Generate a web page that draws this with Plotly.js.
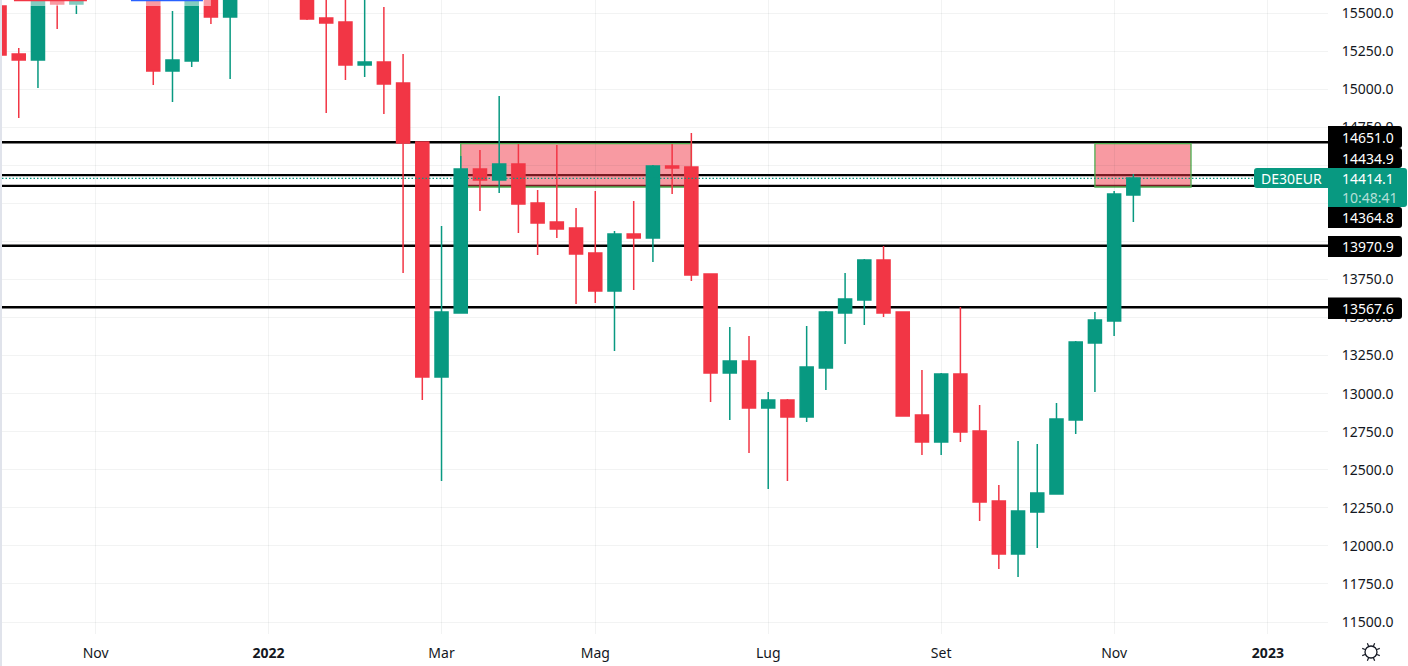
<!DOCTYPE html>
<html><head><meta charset="utf-8">
<script src="https://cdn.plot.ly/plotly-3.0.1.min.js"></script>
<style>html,body{margin:0;padding:0;background:#fff;overflow:hidden}</style>
</head><body><div id="chart" style="width:1408px;height:666px"></div>
<script>
const dates = ["2021-09-27","2021-10-04","2021-10-11","2021-10-18","2021-10-25","2021-11-22","2021-11-29","2021-12-06","2021-12-13","2021-12-20","2022-01-17","2022-01-24","2022-01-31","2022-02-07","2022-02-14","2022-02-21","2022-02-28","2022-03-07","2022-03-14","2022-03-21","2022-03-28","2022-04-04","2022-04-11","2022-04-18","2022-04-25","2022-05-02","2022-05-09","2022-05-16","2022-05-23","2022-05-30","2022-06-06","2022-06-13","2022-06-20","2022-06-27","2022-07-04","2022-07-11","2022-07-18","2022-07-25","2022-08-01","2022-08-08","2022-08-15","2022-08-22","2022-08-29","2022-09-05","2022-09-12","2022-09-19","2022-09-26","2022-10-03","2022-10-10","2022-10-17","2022-10-24","2022-10-31","2022-11-07","2022-11-14"];
const opens = [15546,15231,15191,15600,15559,15700,15119,15185,15700,15474,15700,15467,15441,15158,15178,15040,14653,13109,13530,14475,14403,14508,14252,14127,14088,13924,13674,14049,14022,14495,14489,13786,13136,13214,12906,12958,12847,13168,13530,13615,13878,13536,12860,12682,13129,12755,12295,11947,12223,12341,12827,13333,13477,14305];
const highs = [15546,15270,15660,15600,15600,15750,15513,15700,15700,15700,15700,15750,15750,15750,15539,15231,14653,14101,14561,14600,14955,14640,14337,14633,14219,14331,14068,14265,14502,14640,14712,13786,13438,13379,13011,12965,13444,13543,13792,13885,13970,13536,13155,13136,13569,12925,12400,12689,12669,12939,13346,13536,14331,14443];
const lows = [15224,14810,15007,15395,15493,15027,14915,15145,15428,15067,15454,14843,15060,15080,14837,13792,12958,12426,13530,14200,14318,14055,13911,14022,13589,13595,13280,13681,13865,14311,13740,12945,12827,12610,12374,12426,12814,13024,13326,13451,13503,12853,12597,12597,12682,12163,11848,11796,11986,12341,12735,13011,13379,14127];
const closes = [15224,15191,15650,15559,15600,15119,15191,15700,15474,15700,15461,15434,15158,15178,15034,14646,13109,13536,14475,14403,14508,14246,14121,14081,13917,13674,14049,14022,14495,14482,13779,13136,13214,12906,12958,12847,13175,13536,13622,13878,13530,12853,12682,13129,12748,12288,11947,12229,12347,12833,13339,13484,14311,14416];

const tickDates = ["2021-11-01","2022-01-03","2022-03-07","2022-05-02","2022-07-04","2022-09-05","2022-11-07","2023-01-02"];
const tickLabels = ["Nov","<b>2022</b>","Mar","Mag","Lug","Set","Nov","<b>2023</b>"];
const priceTicks = [11500,11750,12000,12250,12500,12750,13000,13250,13500,13750,14000,14250,14500,14750,15000,15250,15500];
const hiddenPriceLabels = [14000,14250,14500];
const levels = [14651.0,14434.9,14364.8,13970.9,13567.6];
const levelTagTop = [126,148,207,236,297.5];
const levelTagBottom = [148,168,228,257,319];
const lastPrice = 14414.1;
const zones = [["2022-03-14","2022-06-06"],["2022-10-31","2022-12-05"]];
const zoneTop = 14642, zoneBottom = 14357;

const UP = "#089981", DOWN = "#f23645", FONT = '"Noto Sans","Open Sans",sans-serif', INK = "#131722";
const PH = 634, PW = 1326, PL = 2;
const px = p => (p - PL) / PW;
const py = p => 1 - p / PH;

function tag(x0, x1, y0, y1, color, roundLeft) {
  const r = 3, rl = roundLeft ? r : 0, P = (a, b) => px(a) + " " + py(b);
  return {type:"path",xref:"paper",yref:"paper",layer:"above",fillcolor:color,line:{width:0},
    path:"M"+P(x0+rl,y0)+" L"+P(x1-r,y0)+" Q"+P(x1,y0)+" "+P(x1,y0+r)+" L"+P(x1,y1-r)+" Q"+P(x1,y1)+" "+P(x1-r,y1)+
         " L"+P(x0+rl,y1)+(rl?" Q"+P(x0,y1)+" "+P(x0,y1-r)+" L"+P(x0,y0+r)+" Q"+P(x0,y0)+" "+P(x0+r,y0):"")+" Z"};
}

const shapes = [];
shapes.push({type:"rect",xref:"paper",yref:"paper",x0:-2/PW,x1:0,y0:-32/PH,y1:1,fillcolor:"#e0e3eb",line:{width:0},layer:"below"});
levels.forEach(v => shapes.push({type:"line",xref:"paper",yref:"y",x0:0,x1:1,y0:v,y1:v,line:{color:"#000",width:2.4},layer:"below"}));
zones.forEach(z => shapes.push({type:"rect",xref:"x",yref:"y",x0:z[0],x1:z[1],y0:zoneBottom,y1:zoneTop,fillcolor:"rgba(242,54,69,0.5)",line:{color:"#4caf50",width:1.3},layer:"below"}));
shapes.push({type:"line",xref:"paper",yref:"y",x0:0,x1:1,y0:lastPrice,y1:lastPrice,line:{color:UP,width:1.2,dash:"1.5px,2px"},layer:"above"});
[["2021-10-02 06:00","2021-10-28 20:00"],["2021-11-13 21:00","2021-12-13"]].forEach(r =>
  shapes.push({type:"rect",xref:"x",yref:"y",x0:r[0],x1:r[1],y0:15546,y1:15586,fillcolor:"rgba(255,255,255,0.5)",line:{width:0},layer:"above"}));
shapes.push({type:"line",xref:"x",yref:"paper",x0:"2021-10-02 06:00",x1:"2021-10-28 20:00",y0:1-0.5/PH,y1:1-0.5/PH,line:{color:DOWN,width:1.5},layer:"above"});
shapes.push({type:"line",xref:"x",yref:"paper",x0:"2021-11-13 21:00",x1:"2021-12-10 02:00",y0:1-0.5/PH,y1:1-0.5/PH,line:{color:"#2962ff",width:1.5},layer:"above"});
levels.forEach((v,i) => shapes.push(tag(1328,1402,levelTagTop[i],levelTagBottom[i],"#000",false)));
shapes.push(tag(1254,1332,168,188,UP,true));
shapes.push(tag(1328,1407,168,207,UP,false));
shapes.push({type:"circle",xref:"paper",yref:"paper",x0:px(1365),x1:px(1377),y0:py(658),y1:py(646),line:{color:INK,width:1.3},fillcolor:"rgba(0,0,0,0)",layer:"above"});
const sunAngles = [0,1,2,3,4,5,6,7];
sunAngles.forEach(a => { const t = a*Math.PI/4+Math.PI/8, c = Math.cos(t), s = Math.sin(t);
  shapes.push({type:"line",xref:"paper",yref:"paper",x0:px(1371+6.5*c),x1:px(1371+9.5*c),y0:py(652+6.5*s),y1:py(652+9.5*s),line:{color:INK,width:1.2},layer:"above"}); });

const annotations = [];
const label = (x,y,text,color) => ({xref:"paper",yref:"paper",x:px(x),y:py(y),xanchor:"left",yanchor:"middle",showarrow:false,text,borderpad:0,font:{family:FONT,size:14,color}});
levels.forEach((v,i) => annotations.push(label(1341,(levelTagTop[i]+levelTagBottom[i])/2,v.toFixed(1),"#fff")));
annotations.push(label(1260,178,"DE30EUR","#fff"));
annotations.push(label(1341,178,lastPrice.toFixed(1),"#fff"));
annotations.push(label(1341,197,"10:48:41","rgba(255,255,255,0.7)"));

Plotly.newPlot("chart",[{
  type:"candlestick",x:dates,open:opens,high:highs,low:lows,close:closes,
  increasing:{line:{color:UP,width:1.5},fillcolor:UP},
  decreasing:{line:{color:DOWN,width:1.5},fillcolor:DOWN},
  whiskerwidth:0,hoverinfo:"skip"
}],{
  width:1408,height:666,autosize:false,showlegend:false,
  paper_bgcolor:"#fff",plot_bgcolor:"#fff",boxgap:0.03,
  margin:{l:2,r:80,t:0,b:32,pad:0},
  font:{family:FONT,size:14,color:INK},
  xaxis:{type:"date",range:["2021-09-27 21:36","2023-01-23 21:36"],rangeslider:{visible:false},
    tickmode:"array",tickvals:tickDates,ticktext:tickLabels,ticks:"outside",ticklen:6,tickcolor:"rgba(0,0,0,0)",
    gridcolor:"rgba(42,46,57,0.06)",gridwidth:1,showline:false,zeroline:false,tickangle:0,tickfont:{family:FONT,size:14,color:INK}},
  yaxis:{side:"right",range:[11421.2,15585.4],tickmode:"array",tickvals:priceTicks,
    ticktext:priceTicks.map(v=>hiddenPriceLabels.includes(v)?"":v.toFixed(1)),
    ticks:"outside",ticklen:10,tickcolor:"rgba(0,0,0,0)",gridcolor:"rgba(42,46,57,0.06)",gridwidth:1,showline:false,zeroline:false,
    tickfont:{family:FONT,size:14,color:INK}},
  shapes,annotations
},{displayModeBar:false,staticPlot:true});
</script></body></html>
